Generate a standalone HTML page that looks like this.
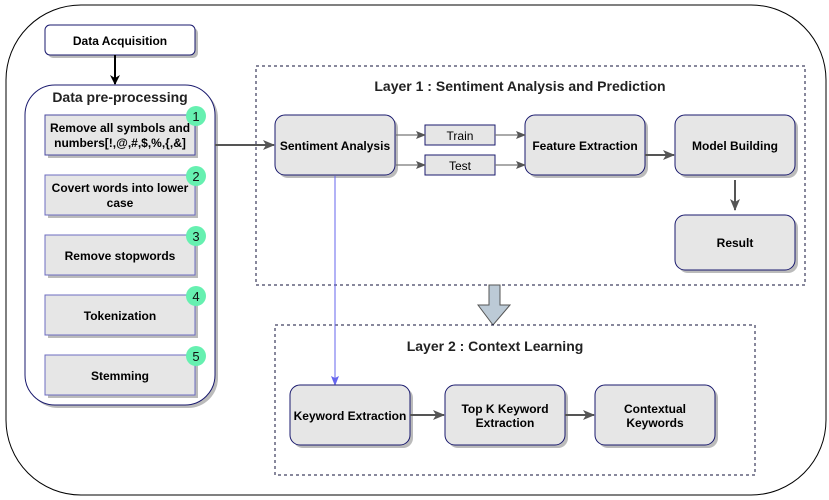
<!DOCTYPE html>
<html><head><meta charset="utf-8"><style>
body{margin:0;background:#fff}
svg{display:block;font-family:"Liberation Sans",sans-serif}
</style></head><body>
<svg width="829" height="500" viewBox="0 0 829 500">
<defs>
<marker id="ab" markerWidth="10" markerHeight="10" refX="9" refY="5" orient="auto" markerUnits="userSpaceOnUse"><path d="M0,0 L10,5 L0,10 L3,5 z" fill="#000"/></marker>
<marker id="ag" markerWidth="12" markerHeight="10" refX="11" refY="5" orient="auto" markerUnits="userSpaceOnUse"><path d="M0,0 L12,5 L0,10 L3,5 z" fill="#555"/></marker>
<marker id="ag2" markerWidth="10" markerHeight="8" refX="9" refY="4" orient="auto" markerUnits="userSpaceOnUse"><path d="M0,0 L10,4 L0,8 L2,4 z" fill="#555"/></marker>
<marker id="abl" markerWidth="10" markerHeight="8" refX="9" refY="4" orient="auto" markerUnits="userSpaceOnUse"><path d="M0,0 L10,4 L0,8 L2,4 z" fill="#6666ee"/></marker>
</defs>
<rect x="6" y="5" width="820" height="490" rx="75" fill="#fff" stroke="#000" stroke-width="1"/>
<rect x="48" y="28" width="150" height="30" rx="5" fill="#bbb"/>
<rect x="45" y="25" width="150" height="30" rx="5" fill="#fff" stroke="#1a1a6e"/>
<text x="120" y="45" text-anchor="middle" font-size="12" font-weight="bold">Data Acquisition</text>
<line x1="115" y1="55" x2="115" y2="84" stroke="#000" stroke-width="2" marker-end="url(#ab)"/>
<rect x="28" y="88" width="190" height="320" rx="30" fill="#bbb"/>
<rect x="25" y="85" width="190" height="320" rx="30" fill="#fff" stroke="#1a1a6e"/>
<text x="120" y="102" text-anchor="middle" font-size="14" font-weight="bold" fill="#222">Data pre-processing</text>
<g font-size="12" font-weight="bold" text-anchor="middle">
<rect x="48" y="118" width="150" height="40" fill="#bbb"/><rect x="45" y="115" width="150" height="40" fill="#e6e6e6" stroke="#4a4aa0"/>
<text x="120" y="132">Remove all symbols and</text><text x="120" y="147">numbers[!,@,#,$,%,{,&amp;]</text>
<rect x="48" y="178" width="150" height="40" fill="#bbb"/><rect x="45" y="175" width="150" height="40" fill="#e6e6e6" stroke="#6c6cc0"/>
<text x="120" y="192">Covert words into lower</text><text x="120" y="207">case</text>
<rect x="48" y="238" width="150" height="40" fill="#bbb"/><rect x="45" y="235" width="150" height="40" fill="#e6e6e6" stroke="#6c6cc0"/>
<text x="120" y="260">Remove stopwords</text>
<rect x="48" y="298" width="150" height="40" fill="#bbb"/><rect x="45" y="295" width="150" height="40" fill="#e6e6e6" stroke="#6c6cc0"/>
<text x="120" y="320">Tokenization</text>
<rect x="48" y="358" width="150" height="40" fill="#bbb"/><rect x="45" y="355" width="150" height="40" fill="#e6e6e6" stroke="#6c6cc0"/>
<text x="120" y="380">Stemming</text>
</g>
<g font-size="13" text-anchor="middle" fill="#111">
<circle cx="196" cy="116" r="10" fill="#66f0b0"/><text x="196" y="121">1</text>
<circle cx="196" cy="176" r="10" fill="#66f0b0"/><text x="196" y="181">2</text>
<circle cx="196" cy="236" r="10" fill="#66f0b0"/><text x="196" y="241">3</text>
<circle cx="196" cy="296" r="10" fill="#66f0b0"/><text x="196" y="301">4</text>
<circle cx="196" cy="356" r="10" fill="#66f0b0"/><text x="196" y="361">5</text>
</g>
<line x1="215" y1="145" x2="274" y2="145" stroke="#555" stroke-width="2" marker-end="url(#ag)"/>
<rect x="256" y="66" width="549" height="219" fill="none" stroke="#10103a" stroke-dasharray="3,3"/>
<text x="520" y="91" text-anchor="middle" font-size="14" font-weight="bold" fill="#222">Layer 1 : Sentiment Analysis and Prediction</text>
<g font-size="12" font-weight="bold" text-anchor="middle">
<rect x="278" y="118" width="120" height="60" rx="10" fill="#bbb"/><rect x="275" y="115" width="120" height="60" rx="10" fill="#e6e6e6" stroke="#1a1a6e"/>
<text x="335" y="150">Sentiment Analysis</text>
<rect x="528" y="118" width="120" height="60" rx="10" fill="#bbb"/><rect x="525" y="115" width="120" height="60" rx="10" fill="#e6e6e6" stroke="#1a1a6e"/>
<text x="585" y="150">Feature Extraction</text>
<rect x="678" y="118" width="120" height="60" rx="10" fill="#bbb"/><rect x="675" y="115" width="120" height="60" rx="10" fill="#e6e6e6" stroke="#1a1a6e"/>
<text x="735" y="150">Model Building</text>
<rect x="678" y="218" width="120" height="55" rx="10" fill="#bbb"/><rect x="675" y="215" width="120" height="55" rx="10" fill="#e6e6e6" stroke="#1a1a6e"/>
<text x="735" y="247">Result</text>
</g>
<rect x="425" y="125" width="70" height="20" fill="#e6e6e6" stroke="#1a1a6e"/>
<text x="460" y="140" text-anchor="middle" font-size="12">Train</text>
<rect x="425" y="155" width="70" height="20" fill="#e6e6e6" stroke="#1a1a6e"/>
<text x="460" y="170" text-anchor="middle" font-size="12">Test</text>
<g stroke="#777" stroke-width="1.2">
<line x1="396" y1="135" x2="425" y2="135" marker-end="url(#ag2)"/>
<line x1="396" y1="165" x2="425" y2="165" marker-end="url(#ag2)"/>
<line x1="495" y1="135" x2="525" y2="135" marker-end="url(#ag2)"/>
<line x1="495" y1="165" x2="525" y2="165" marker-end="url(#ag2)"/>
</g>
<line x1="645" y1="155" x2="674" y2="155" stroke="#555" stroke-width="2" marker-end="url(#ag)"/>
<line x1="735" y1="180" x2="735" y2="210" stroke="#555" stroke-width="2" marker-end="url(#ag)"/>
<path d="M489,285 L500,285 L500,305 L510,305 L493,325 L478,305 L489,305 z" fill="#bccad6" stroke="#555"/>
<rect x="275" y="325" width="480" height="150" fill="none" stroke="#10103a" stroke-dasharray="3,3"/>
<text x="495" y="351" text-anchor="middle" font-size="14" font-weight="bold" fill="#222">Layer 2 : Context Learning</text>
<line x1="335" y1="176" x2="335" y2="385" stroke="#6666ee" stroke-width="1" marker-end="url(#abl)"/>
<g font-size="12" font-weight="bold" text-anchor="middle">
<rect x="293" y="388" width="120" height="60" rx="10" fill="#bbb"/><rect x="290" y="385" width="120" height="60" rx="10" fill="#e6e6e6" stroke="#1a1a6e"/>
<text x="350" y="420">Keyword Extraction</text>
<rect x="448" y="388" width="120" height="60" rx="10" fill="#bbb"/><rect x="445" y="385" width="120" height="60" rx="10" fill="#e6e6e6" stroke="#1a1a6e"/>
<text x="505" y="413">Top K Keyword</text><text x="505" y="427">Extraction</text>
<rect x="598" y="388" width="120" height="60" rx="10" fill="#bbb"/><rect x="595" y="385" width="120" height="60" rx="10" fill="#e6e6e6" stroke="#1a1a6e"/>
<text x="655" y="413">Contextual</text><text x="655" y="427">Keywords</text>
</g>
<line x1="410" y1="415" x2="444" y2="415" stroke="#555" stroke-width="2" marker-end="url(#ag)"/>
<line x1="565" y1="415" x2="594" y2="415" stroke="#555" stroke-width="2" marker-end="url(#ag)"/>
</svg>
</body></html>
